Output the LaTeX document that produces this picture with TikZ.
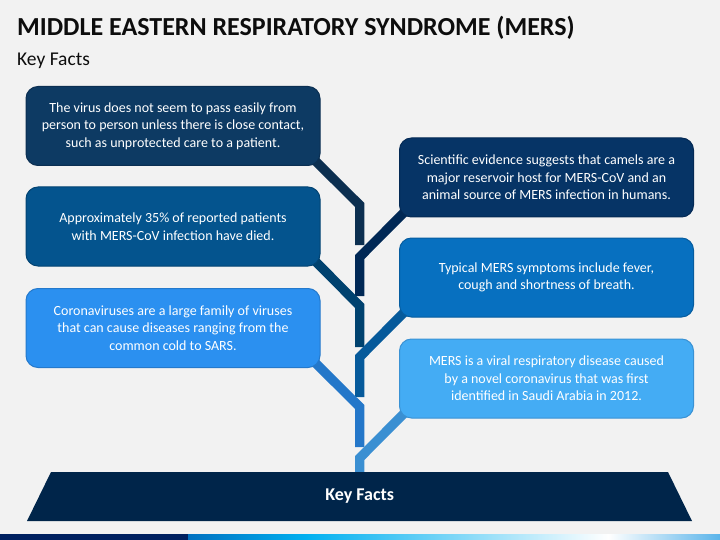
\documentclass[tikz,border=0pt]{standalone}
\usepackage{fontspec}
\setmainfont{Carlito}
\usepackage{xcolor}
\definecolor{pageGray}{RGB}{242,242,242}
\definecolor{titleInk}{RGB}{13,13,13}
\definecolor{baseNavy}{RGB}{0,37,74}
\definecolor{barNavy}{RGB}{0,32,96}
\definecolor{barBlue}{RGB}{0,112,192}
\definecolor{barCyan}{RGB}{0,176,240}
\definecolor{barSky}{RGB}{90,180,234}
\definecolor{deadNavy}{HTML}{0D3A63}
\definecolor{deadEdge}{HTML}{0B2F52}
\definecolor{deadLimb}{HTML}{0C2F50}
\definecolor{diedBlue}{HTML}{04548E}
\definecolor{diedEdge}{HTML}{034473}
\definecolor{diedLimb}{HTML}{00426F}
\definecolor{coronaBlue}{HTML}{2B90F0}
\definecolor{coronaEdge}{HTML}{2479CC}
\definecolor{coronaLimb}{HTML}{2477C9}
\definecolor{camelNavy}{HTML}{063466}
\definecolor{camelEdge}{HTML}{042A55}
\definecolor{camelLimb}{HTML}{002855}
\definecolor{symptomBlue}{HTML}{0770C0}
\definecolor{symptomEdge}{HTML}{065DA0}
\definecolor{symptomLimb}{HTML}{065A9B}
\definecolor{originBlue}{HTML}{44ACF4}
\definecolor{originEdge}{HTML}{3A92D4}
\definecolor{originLimb}{HTML}{3A8FD2}
\pgfdeclarelayer{paper}
\pgfdeclarelayer{limbs}
\pgfsetlayers{paper,limbs,main}
\begin{document}
\begin{tikzpicture}[x=1pt, y=-1pt,
    fact/.style={draw, line width=1pt, rounded corners=12pt, minimum width=294pt, minimum height=79pt, text=white, align=center, font=\fontsize{14}{17.5}\selectfont},
    limb/.style={line width=9.3pt, shorten <=-10pt}]
\useasboundingbox (0,0) rectangle (720,540);
\begin{pgfonlayer}{paper}
\fill[pageGray] (0,0) rectangle (720,540);
\end{pgfonlayer}
\node[anchor=base west, text=titleInk, font=\fontsize{26}{30}\selectfont\bfseries, inner sep=0pt] (title) at (17,36) {MIDDLE EASTERN RESPIRATORY SYNDROME (MERS)};
\node[anchor=base west, text=titleInk, font=\fontsize{19.5}{23}\selectfont, inner sep=0pt] (subtitle) at (17,66) {Key Facts};
\node[fact, fill=deadNavy, draw=deadEdge] (contact) at (173,126) {The virus does not seem to pass easily from\\person to person unless there is close contact,\\such as unprotected care to a patient.};
\node[fact, fill=diedBlue, draw=diedEdge] (deaths) at (173,226.5) {Approximately 35\% of reported patients\\with MERS-CoV infection have died.};
\node[fact, fill=coronaBlue, draw=coronaEdge] (family) at (173,328) {Coronaviruses are a large family of viruses\\that can cause diseases ranging from the\\common cold to SARS.};
\node[fact, fill=camelNavy, draw=camelEdge] (camels) at (546.5,177.5) {Scientific evidence suggests that camels are a\\major reservoir host for MERS-CoV and an\\animal source of MERS infection in humans.};
\node[fact, fill=symptomBlue, draw=symptomEdge] (symptoms) at (546.5,277.5) {Typical MERS symptoms include fever,\\cough and shortness of breath.};
\node[fact, fill=originBlue, draw=originEdge] (origin) at (546.5,378.5) {MERS is a viral respiratory disease caused\\by a novel coronavirus that was first\\identified in Saudi Arabia in 2012.};
\coordinate (bend1) at (359.7,205);
\coordinate (stop1) at (359.7,245);
\coordinate (bend2) at (359.7,257);
\coordinate (stop2) at (359.7,296);
\coordinate (bend3) at (359.7,306);
\coordinate (stop3) at (359.7,347);
\coordinate (bend4) at (359.7,357);
\coordinate (stop4) at (359.7,397);
\coordinate (bend5) at (359.7,407);
\coordinate (stop5) at (359.7,447);
\coordinate (bend6) at (359.7,458);
\coordinate (stop6) at (359.7,474);
\begin{pgfonlayer}{limbs}
\draw[limb, deadLimb] (contact.south east) -- (bend1) -- (stop1);
\draw[limb, camelLimb] (camels.south west) -- (bend2) -- (stop2);
\draw[limb, diedLimb] (deaths.south east) -- (bend3) -- (stop3);
\draw[limb, symptomLimb] (symptoms.south west) -- (bend4) -- (stop4);
\draw[limb, coronaLimb] (family.south east) -- (bend5) -- (stop5);
\draw[limb, originLimb] (origin.south west) -- (bend6) -- (stop6);
\end{pgfonlayer}
\fill[baseNavy] (51,472) -- (668,472) -- (692,521) -- (27,521) -- cycle;
\node[text=white, font=\fontsize{18}{21}\selectfont\bfseries] (base) at (359.7,496) {Key Facts};
\fill[barNavy] (0,534) rectangle (188,540);
\shade[left color=barBlue, right color=barCyan] (188,534) rectangle (306,540);
\shade[left color=barCyan, right color=white] (306,534) rectangle (608,540);
\shade[left color=white, right color=barSky] (608,534) rectangle (720,540);
\end{tikzpicture}
\end{document}
